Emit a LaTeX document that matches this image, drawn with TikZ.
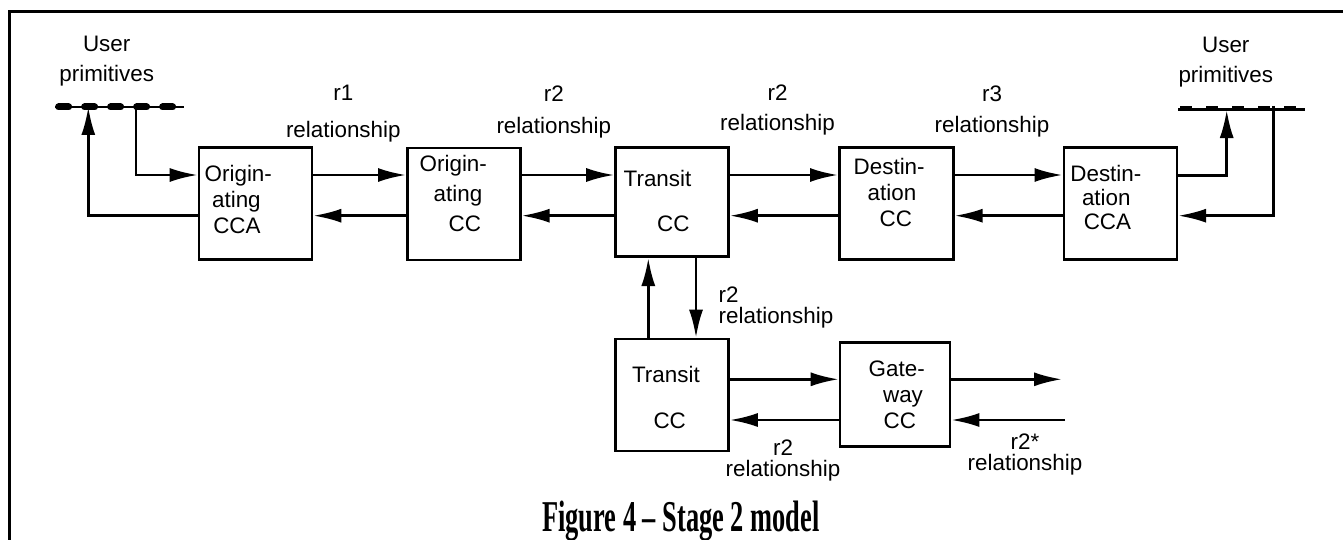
\documentclass[tikz,border=0pt]{standalone}
\usepackage{fontspec}
\setmainfont{Liberation Sans}
\newfontfamily\capfont{Liberation Serif}
\usetikzlibrary{arrows.meta}
\tikzset{
	>={Latex[length=14pt,width=7pt]},
	box/.style={draw,line width=1.3pt,minimum width=56.5pt,minimum height=56pt,inner sep=0pt},
	boxtext/.style={font=\fontsize{11.2pt}{13pt}\selectfont,align=left,anchor=west,inner sep=0pt},
	rel/.style={font=\fontsize{11.2pt}{10.5pt}\selectfont,align=center,inner sep=0pt},
	conn/.style={->,line width=1.3pt},
}
\begin{document}
\begin{tikzpicture}[x=0.5pt,y=-0.5pt]
	\useasboundingbox (0,0) rectangle (1343,540);
	\draw[line width=1.5pt] (9.5,540)--(9.5,11.5)--(1343,11.5);
	% boxes
	\node[box] (occa) at (255.5,203.5) {};
	\node[box] (occ) at (463.8,203.8) {};
	\node[box,minimum height=54.5pt] (tcc) at (672,202.2) {};
	\node[box,minimum width=57pt] (dcc) at (896.3,203.3) {};
	\node[box] (dcca) at (1120.3,203.5) {};
	\node[box] (ltcc) at (672,395) {};
	\node[box,minimum width=55pt,minimum height=52pt] (gcc) at (895,394.5) {};
	\node[boxtext] (occat) at (204.3,199.2) {Origin-\\\hspace*{3.7pt}ating\\\hspace*{4.3pt}CCA};
	\node[boxtext] (occt) at (419.3,193.7) {Origin-\\[2pt]\hspace*{7pt}ating\\[2pt]\hspace*{14.5pt}CC};
	\node[boxtext] (tcct) at (623.3,201) {Transit\\[9.5pt]\hspace*{16.7pt}CC};
	\node[boxtext] (dcct) at (853.3,192.8) {Destin-\\\hspace*{7pt}ation\\\hspace*{13pt}CC};
	\node[boxtext] (dccat) at (1070,197.8) {Destin-\\[-1pt]\hspace*{5.8pt}ation\\[-1pt]\hspace*{6.7pt}CCA};
	\node[boxtext] (ltcct) at (631.7,397.5) {Transit\\[9.8pt]\hspace*{10.7pt}CC};
	\node[boxtext] (gcct) at (868.3,394.5) {Gate-\\\hspace*{7.2pt}way\\\hspace*{7.5pt}CC};
	% relationships along the chain
	\foreach \a/\b in {occa/occ,occ/tcc,tcc/dcc,dcc/dcca}{
		\draw[conn] (\a.east |- 0,175)--(\b.west |- 0,175);
		\draw[conn] (\b.west |- 0,215.7)--(\a.east |- 0,215.7);
	}
	\draw[conn] (ltcc.north -| 648.3,0)--(tcc.south -| 648.3,0);
	\draw[conn] (tcc.south -| 696,0)--(ltcc.north -| 696,0);
	\draw[conn] (ltcc.east |- 0,379.3)--(gcc.west |- 0,379.3);
	\draw[conn] (gcc.west |- 0,420)--(ltcc.east |- 0,420);
	\coordinate (gout) at (1062,379.3);
	\coordinate (gin) at (1065,420);
	\draw[conn] (gcc.east |- gout)--(gout);
	\draw[conn] (gin)--(gcc.east |- gin);
	% user primitives
	\coordinate (lua) at (55,107);
	\coordinate (lub) at (184,107);
	\coordinate (lup) at (88.3,107);
	\coordinate (ldown) at (136,107);
	\draw[line width=1pt] (lua)--(lub);
	\draw[line width=3.5pt,line cap=round,dash pattern=on 5pt off 8pt] ([xshift=1.8pt]lua)--(lub);
	\draw[conn] (occa.west |- 0,215.7) -| (lup);
	\draw[conn] (ldown) |- (occa.west |- 0,175);
	\coordinate (rua) at (1178,109.5);
	\coordinate (rub) at (1305,109.5);
	\coordinate (rup) at (1226.7,110);
	\coordinate (rdown) at (1273.3,106);
	\draw[line width=1.3pt] (rua)--(rub);
	\draw[line width=1.2pt,dash pattern=on 6pt off 7pt] ([shift={(2,-2.5)}]rua)--([shift={(-5,-2.5)}]rub);
	\draw[conn] (dcca.east |- 0,175.5) -| (rup);
	\draw[conn] (rdown) |- (dcca.east |- 0,215.7);
	% labels
	\node[rel] (ulab) at (106.7,61) {User\\[4.5pt]primitives};
	\node[rel] (urlab) at (1225.8,62.3) {User\\[4.5pt]primitives};
	\node[rel] (r1lab) at (343.3,114) {r1\\[8pt]relationship};
	\node[rel] (r2alab) at (553.8,112) {r2\\[5.3pt]relationship};
	\node[rel] (r2blab) at (777.5,110) {r2\\[4.5pt]relationship};
	\node[rel] (r3lab) at (992,111.2) {r3\\[5pt]relationship};
	\node[rel,align=left,anchor=west] (r2clab) at (718.3,307.2) {r2\\relationship};
	\node[rel] (r2dlab) at (783,460) {r2\\relationship};
	\node[rel] (r2slab) at (1025,454) {r2*\\relationship};
	\node[font=\capfont\bfseries\fontsize{22pt}{24pt}\selectfont,xscale=0.6,anchor=base,inner sep=0pt] (cap) at (681,531) {Figure 4 – Stage 2 model};
\end{tikzpicture}
\end{document}
